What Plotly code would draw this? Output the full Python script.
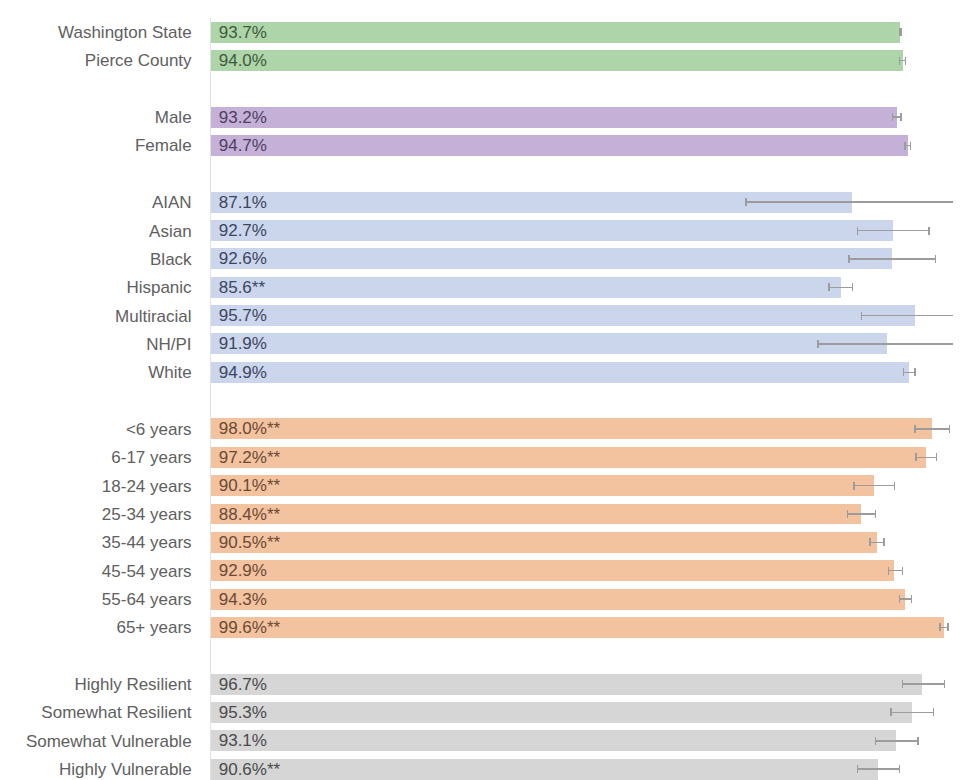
import plotly.graph_objects as go

# ---- data ----
group_names = ["Geography", "Sex", "Race", "Age", "Resilience"]

geo_cats = ["Washington State", "Pierce County"]
geo_vals = [93.7, 94.0]
geo_lo = [93.6, 93.6]
geo_hi = [93.8, 94.4]
geo_txt = ["93.7%", "94.0%"]

sex_cats = ["Male", "Female"]
sex_vals = [93.2, 94.7]
sex_lo = [92.6, 94.3]
sex_hi = [93.8, 95.1]
sex_txt = ["93.2%", "94.7%"]

race_cats = ["AIAN", "Asian", "Black", "Hispanic", "Multiracial", "NH/PI", "White"]
race_vals = [87.1, 92.7, 92.6, 85.6, 95.7, 91.9, 94.9]
race_lo = [72.7, 87.9, 86.7, 84.0, 88.4, 82.5, 94.1]
race_hi = [101.4, 97.6, 98.5, 87.2, 103.0, 101.4, 95.7]
race_txt = ["87.1%", "92.7%", "92.6%", "85.6**", "95.7%", "91.9%", "94.9%"]

age_cats = ["<6 years", "6-17 years", "18-24 years", "25-34 years", "35-44 years",
            "45-54 years", "55-64 years", "65+ years"]
age_vals = [98.0, 97.2, 90.1, 88.4, 90.5, 92.9, 94.3, 99.6]
age_lo = [95.7, 95.8, 87.4, 86.5, 89.6, 92.1, 93.6, 99.1]
age_hi = [100.4, 98.6, 92.9, 90.3, 91.5, 94.0, 95.2, 100.2]
age_txt = ["98.0%**", "97.2%**", "90.1%**", "88.4%**", "90.5%**", "92.9%", "94.3%", "99.6%**"]

res_cats = ["Highly Resilient", "Somewhat Resilient", "Somewhat Vulnerable", "Highly Vulnerable"]
res_vals = [96.7, 95.3, 93.1, 90.6]
res_lo = [94.0, 92.4, 90.3, 87.9]
res_hi = [99.7, 98.2, 96.1, 93.6]
res_txt = ["96.7%", "95.3%", "93.1%", "90.6%**"]

groups = [
    (geo_cats, geo_vals, geo_lo, geo_hi, geo_txt, "#aed4a9", "#3e5b3c"),
    (sex_cats, sex_vals, sex_lo, sex_hi, sex_txt, "#c5b0d7", "#4e3f62"),
    (race_cats, race_vals, race_lo, race_hi, race_txt, "#cbd5eb", "#3b4660"),
    (age_cats, age_vals, age_lo, age_hi, age_txt, "#f3c29f", "#6a4a36"),
    (res_cats, res_vals, res_lo, res_hi, res_txt, "#d6d6d6", "#4a4a4a"),
]

FONT = "Arial, Liberation Sans, sans-serif"

fig = go.Figure()
tickvals, ticktext = [], []
slot = 0
for name, (cats, vals, lo, hi, txt, col, tcol) in zip(group_names, groups):
    ys = list(range(slot, slot + len(cats)))
    slot += len(cats) + 1
    tickvals += ys
    ticktext += cats
    fig.add_trace(go.Bar(
        x=vals, y=ys, orientation="h", name=name,
        marker=dict(color=col, line=dict(width=0)),
        width=0.74,
        text=txt, texttemplate="&nbsp;%{text}",
        textposition="inside", insidetextanchor="start",
        textangle=0, constraintext="none",
        textfont=dict(size=17, color=tcol, family=FONT),
        error_x=dict(type="data", symmetric=False,
                     array=[h - v for h, v in zip(hi, vals)],
                     arrayminus=[v - l for v, l in zip(vals, lo)],
                     color="#9c9c9c", thickness=1.5, width=4),
        hoverinfo="skip",
    ))

fig.update_layout(
    width=953, height=772,
    margin=dict(l=203, r=0, t=10, b=0),
    plot_bgcolor="white", paper_bgcolor="white",
    showlegend=False, bargap=0,
    font=dict(family=FONT, size=17, color="#606060"),
    xaxis=dict(range=[0, 101.94], showgrid=False, zeroline=False,
               showticklabels=False, ticks="", showline=False),
    yaxis=dict(range=[26.385, -0.5], tickvals=tickvals, ticktext=ticktext,
               showgrid=False, zeroline=False, ticks="", ticklabelstandoff=15,
               showline=True, linecolor="#e2e2e2", linewidth=1,
               automargin=False,
               tickfont=dict(size=17, color="#606060", family=FONT)),
)

fig.write_html("out.html")
